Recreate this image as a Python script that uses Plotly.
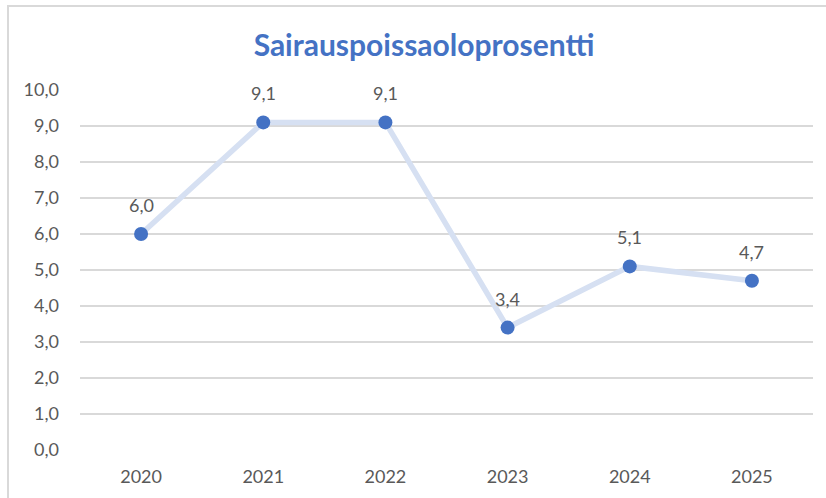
import plotly.graph_objects as go

years = ["2020", "2021", "2022", "2023", "2024", "2025"]
values = [6.0, 9.1, 9.1, 3.4, 5.1, 4.7]
y_ticks = [0, 1, 2, 3, 4, 5, 6, 7, 8, 9, 10]
y_tick_labels = [f"{v:.1f}".replace(".", ",") for v in y_ticks]
value_labels = [f"{v:.1f}".replace(".", ",") for v in values]

W, H = 826, 498
L, R, T, B = 80, 13, 90, 48
pw, ph = W - L - R, H - T - B
FONT = "Lato, Open Sans, sans-serif"

fig = go.Figure()
fig.add_trace(go.Scatter(
    x=years, y=values, mode="lines+markers",
    line=dict(color="#d6e0f2", width=5.5),
    marker=dict(color="#4472c4", size=14),
    cliponaxis=False,
    hoverinfo="skip",
))

for i, (yv, lab) in enumerate(zip(values, value_labels)):
    fig.add_annotation(x=i, y=yv, xref="x", yref="y", text=lab, showarrow=False, yshift=29,
                       font=dict(family=FONT, size=18, color="#595959"))

def px_x(p):
    return (p - L) / pw

def px_y(p):
    return (H - B - p) / ph

fig.add_shape(type="rect", xref="paper", yref="paper",
              x0=px_x(8), x1=px_x(840), y0=px_y(510), y1=px_y(6),
              line=dict(color="#d9d9d9", width=2), layer="below")

fig.update_layout(
    width=W, height=H,
    margin=dict(l=L, r=R, t=T, b=B),
    paper_bgcolor="white", plot_bgcolor="white",
    showlegend=False,
    title=dict(text="<b>Sairauspoissaoloprosentti</b>", x=424 / W, xanchor="center",
               y=1 - 45 / H, yanchor="middle",
               font=dict(family=FONT, size=30, color="#4472c4")),
    font=dict(family=FONT, size=18, color="#595959"),
)
fig.update_xaxes(type="category", range=[-0.5, 5.5], showgrid=False, showline=False,
                 ticks="", tickfont=dict(size=18, color="#595959"), ticklabelstandoff=14)
fig.update_yaxes(range=[0, 10], tickvals=y_ticks, ticktext=y_tick_labels,
                 showgrid=True, gridcolor="#d9d9d9", gridwidth=1.5,
                 zeroline=False, showline=False, ticks="",
                 tickfont=dict(size=18, color="#595959"), ticklabelstandoff=20)

fig.write_html("out.html", config={"displayModeBar": False},
               post_script="document.body.style.margin='0';document.body.style.overflow='hidden';")
